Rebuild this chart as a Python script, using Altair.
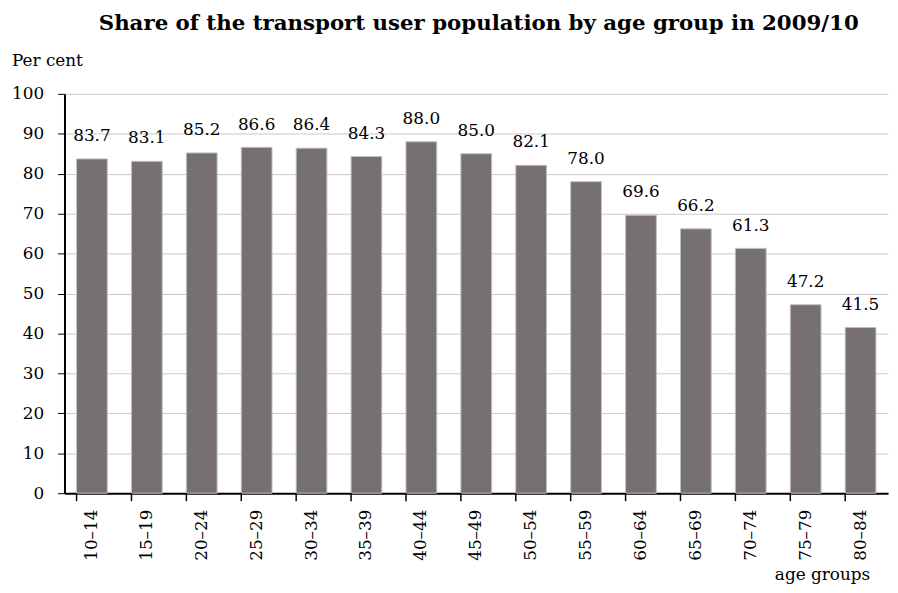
import altair as alt
import pandas as pd

groups = ["10–14", "15–19", "20–24", "25–29", "30–34", "35–39", "40–44", "45–49",
          "50–54", "55–59", "60–64", "65–69", "70–74", "75–79", "80–84"]
values = [83.7, 83.1, 85.2, 86.6, 86.4, 84.3, 88.0, 85.0, 82.1, 78.0, 69.6, 66.2, 61.3, 47.2, 41.5]
title_text = "Share of the transport user population by age group in 2009/10"
y_title = "Per cent"
x_title = "age groups"

df = pd.DataFrame({"group": groups, "value": values,
                   "label": [f"{v:.1f}" for v in values]})

FONT = "DejaVu Serif"
W, H = 831, 403

xscale = alt.Scale(paddingInner=0.44, paddingOuter=0.22)
x = alt.X("group:N", sort=groups, scale=xscale,
          axis=alt.Axis(title=None, labelAngle=-90, labelFont=FONT, labelFontSize=17,
                        labelColor="#000", ticks=False, domain=True, domainColor="#000",
                        domainWidth=2, labelPadding=16, labelBaseline="middle",
                        labelAlign="right"))
y = alt.Y("value:Q", scale=alt.Scale(domain=[0, 100]),
          axis=alt.Axis(title=None, values=list(range(0, 101, 10)), labelFont=FONT,
                        labelFontSize=17, labelColor="#000", tickColor="#000",
                        tickSize=7, domainColor="#000", domainWidth=2,
                        gridColor="#c8c8c8", labelPadding=14))

bars = alt.Chart(df).mark_bar(color="#767170", stroke="#c0c0c0", strokeWidth=1).encode(
    x=x, y=y)

labels = alt.Chart(df).mark_text(font=FONT, fontSize=17, color="#000", dy=-14,
                                 baseline="bottom").encode(
    x=alt.X("group:N", sort=groups, scale=xscale),
    y="value:Q", text="label:N")

ticks = alt.Chart(df).mark_rule(color="#000", strokeWidth=1.5).encode(
    x=alt.X("group:N", sort=groups, scale=xscale, bandPosition=0),
    y=alt.value(H), y2=alt.value(H + 8))

title = alt.Chart(pd.DataFrame({"t": [title_text]})).mark_text(
    font=FONT, fontSize=21.5, fontWeight="bold", color="#000", align="center",
    baseline="alphabetic").encode(x=alt.value(418), y=alt.value(-64), text="t:N")

ytitle = alt.Chart(pd.DataFrame({"t": [y_title]})).mark_text(
    font=FONT, fontSize=17, color="#000", align="left", baseline="alphabetic").encode(
    x=alt.value(-53), y=alt.value(-28), text="t:N")

xtitle = alt.Chart(pd.DataFrame({"t": [x_title]})).mark_text(
    font=FONT, fontSize=17, color="#000", align="right", baseline="alphabetic").encode(
    x=alt.value(813), y=alt.value(H + 88), text="t:N")

chart = alt.layer(bars, labels, ticks, title, ytitle, xtitle).properties(
    width=W, height=H,
    autosize=alt.AutoSizeParams(type="none"),
    padding={"left": 57, "top": 84, "right": 2, "bottom": 90},
).configure_view(stroke=None)

chart.save("out.html", embed_options={"renderer": "svg", "actions": False})
